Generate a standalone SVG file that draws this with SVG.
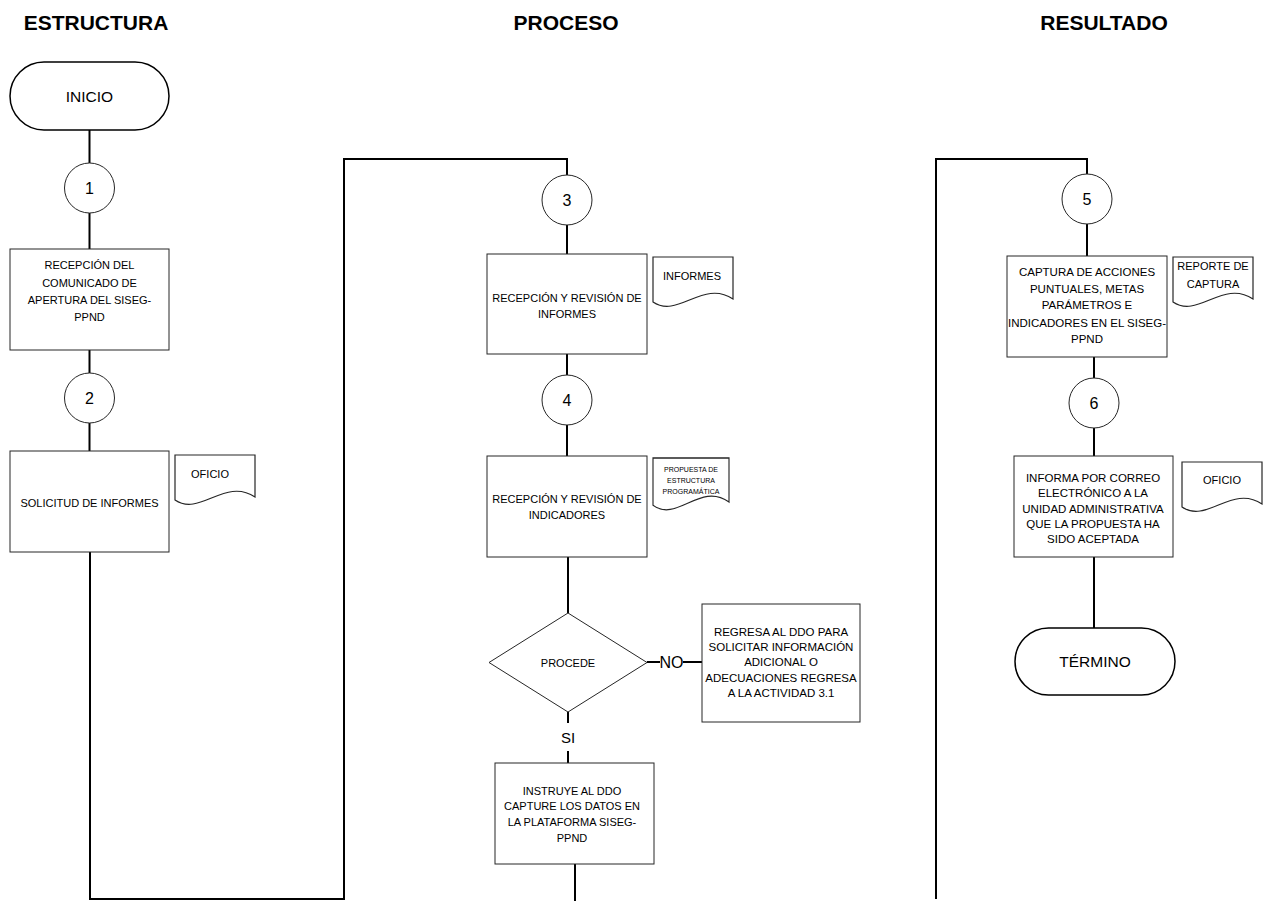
<svg xmlns="http://www.w3.org/2000/svg" width="1263" height="901" viewBox="0 0 1263 901">
  <style>
    .bg { fill: #ffffff; }
    .box { fill: #ffffff; stroke: #262626; stroke-width: 1; }
    .term { fill: #ffffff; stroke: #000000; stroke-width: 1.5; }
    .circ { fill: #ffffff; stroke: #262626; stroke-width: 1; }
    .doc { fill: #ffffff; stroke: #262626; stroke-width: 1.2; }
    .wire { fill: none; stroke: #000000; stroke-width: 2; }
    .hdr { font-family: "Liberation Sans", Arial, sans-serif; font-size: 21px; font-weight: bold; fill: #000; text-anchor: middle; }
    .t { font-family: "Liberation Sans", Arial, sans-serif; font-size: 11px; fill: #000; text-anchor: middle; }
    .tl { font-family: "Liberation Sans", Arial, sans-serif; font-size: 11.5px; fill: #000; text-anchor: middle; }
    .tiny { font-family: "Liberation Sans", Arial, sans-serif; font-size: 7px; fill: #000; text-anchor: middle; }
    .num { font-family: "Liberation Sans", Arial, sans-serif; font-size: 16px; fill: #000; text-anchor: middle; }
    .big { font-family: "Liberation Sans", Arial, sans-serif; font-size: 15.5px; fill: #000; text-anchor: middle; }
    .lbl { font-family: "Liberation Sans", Arial, sans-serif; font-size: 15px; fill: #000; text-anchor: middle; }
  </style>
  <defs>
    <!-- document shape with wavy bottom edge, 80 wide -->
    <path id="docShape" d="M0,0 H80 V42 C50,22 25,62 0,45 Z"/>
  </defs>

  <rect class="bg" x="0" y="0" width="1263" height="901"/>

  <!-- column headers -->
  <g id="headers">
    <text class="hdr" x="96" y="30">ESTRUCTURA</text>
    <text class="hdr" x="566" y="30">PROCESO</text>
    <text class="hdr" x="1104" y="30">RESULTADO</text>
  </g>

  <!-- connectors -->
  <g id="connectors">
    <line class="wire" x1="89.5" y1="130" x2="89.5" y2="163"/>
    <line class="wire" x1="89.5" y1="213" x2="89.5" y2="249"/>
    <line class="wire" x1="89.5" y1="350" x2="89.5" y2="373"/>
    <line class="wire" x1="89.5" y1="423" x2="89.5" y2="451"/>
    <polyline class="wire" points="90,552 90,899 344,899 344,159 567,159 567,175"/>
    <line class="wire" x1="567" y1="225" x2="567" y2="254"/>
    <line class="wire" x1="567" y1="354" x2="567" y2="375"/>
    <line class="wire" x1="567" y1="425" x2="567" y2="456"/>
    <line class="wire" x1="568" y1="557" x2="568" y2="613"/>
    <line class="wire" x1="647" y1="662" x2="660" y2="662"/>
    <line class="wire" x1="683" y1="662" x2="702" y2="662"/>
    <line class="wire" x1="568" y1="712" x2="568" y2="723"/>
    <line class="wire" x1="568" y1="751" x2="568" y2="763"/>
    <line class="wire" x1="575" y1="864" x2="575" y2="901"/>
    <polyline class="wire" points="936,899 936,159 1087,159 1087,174"/>
    <line class="wire" x1="1087" y1="224" x2="1087" y2="256"/>
    <line class="wire" x1="1094" y1="357" x2="1094" y2="378"/>
    <line class="wire" x1="1094" y1="428" x2="1094" y2="456"/>
    <line class="wire" x1="1094" y1="557" x2="1094" y2="628"/>
  </g>

  <!-- ESTRUCTURA column -->
  <g id="inicio">
    <rect class="term" x="10" y="62" width="159" height="68" rx="34" ry="34"/>
    <text class="big" x="89.5" y="102">INICIO</text>
  </g>
  <g id="step1">
    <circle class="circ" cx="89.5" cy="188" r="25"/>
    <text class="num" x="89.5" y="194">1</text>
  </g>
  <g id="recepcion-comunicado">
    <rect class="box" x="10" y="249" width="159" height="101"/>
    <text class="t" x="89.5" y="269">RECEPCIÓN DEL</text>
    <text class="t" x="89.5" y="287">COMUNICADO DE</text>
    <text class="t" x="89.5" y="304">APERTURA DEL SISEG-</text>
    <text class="t" x="89.5" y="321">PPND</text>
  </g>
  <g id="step2">
    <circle class="circ" cx="89.5" cy="398" r="25"/>
    <text class="num" x="89.5" y="404">2</text>
  </g>
  <g id="solicitud-informes">
    <rect class="box" x="10" y="451" width="159" height="101"/>
    <text class="t" x="89.5" y="507">SOLICITUD DE INFORMES</text>
  </g>
  <g id="doc-oficio-1">
    <use href="#docShape" class="doc" transform="translate(175,455)"/>
    <text class="t" x="210" y="478">OFICIO</text>
  </g>

  <!-- PROCESO column -->
  <g id="step3">
    <circle class="circ" cx="567" cy="200" r="25"/>
    <text class="num" x="567" y="206">3</text>
  </g>
  <g id="revision-informes">
    <rect class="box" x="487" y="254" width="160" height="100"/>
    <text class="t" x="567" y="302">RECEPCIÓN Y REVISIÓN DE</text>
    <text class="t" x="567" y="318">INFORMES</text>
  </g>
  <g id="doc-informes">
    <use href="#docShape" class="doc" transform="translate(653,257)"/>
    <text class="t" x="692" y="280">INFORMES</text>
  </g>
  <g id="step4">
    <circle class="circ" cx="567" cy="400" r="25"/>
    <text class="num" x="567" y="406">4</text>
  </g>
  <g id="revision-indicadores">
    <rect class="box" x="487" y="456" width="160" height="101"/>
    <text class="t" x="567" y="503">RECEPCIÓN Y REVISIÓN DE</text>
    <text class="t" x="567" y="519">INDICADORES</text>
  </g>
  <g id="doc-propuesta">
    <use href="#docShape" class="doc" transform="translate(653,458) scale(0.95,1.05)"/>
    <text class="tiny" x="691" y="472">PROPUESTA DE</text>
    <text class="tiny" x="691" y="483">ESTRUCTURA</text>
    <text class="tiny" x="691" y="494">PROGRAMÁTICA</text>
  </g>
  <g id="procede">
    <polygon class="box" points="568,613 647,662.5 568,712 489,662.5"/>
    <text class="t" x="568" y="667">PROCEDE</text>
  </g>
  <g id="label-no">
    <text class="num" x="671.5" y="668">NO</text>
  </g>
  <g id="regresa-ddo">
    <rect class="box" x="702" y="604" width="158" height="118"/>
    <text class="tl" x="781" y="636">REGRESA AL DDO PARA</text>
    <text class="tl" x="781" y="651">SOLICITAR INFORMACIÓN</text>
    <text class="tl" x="781" y="666">ADICIONAL O</text>
    <text class="tl" x="781" y="682">ADECUACIONES REGRESA</text>
    <text class="tl" x="781" y="697">A LA ACTIVIDAD 3.1</text>
  </g>
  <g id="label-si">
    <text class="lbl" x="568" y="743">SI</text>
  </g>
  <g id="instruye-ddo">
    <rect class="box" x="495" y="763" width="159" height="101"/>
    <text class="t" x="572" y="795">INSTRUYE AL DDO</text>
    <text class="t" x="572" y="810">CAPTURE LOS DATOS EN</text>
    <text class="t" x="572" y="826">LA PLATAFORMA SISEG-</text>
    <text class="t" x="572" y="842">PPND</text>
  </g>

  <!-- RESULTADO column -->
  <g id="step5">
    <circle class="circ" cx="1087" cy="199" r="25"/>
    <text class="num" x="1087" y="205">5</text>
  </g>
  <g id="captura-acciones">
    <rect class="box" x="1007" y="256" width="160" height="101"/>
    <text class="tl" x="1087" y="276">CAPTURA DE ACCIONES</text>
    <text class="tl" x="1087" y="293">PUNTUALES, METAS</text>
    <text class="tl" x="1087" y="309">PARÁMETROS E</text>
    <text class="tl" x="1087" y="327">INDICADORES EN EL SISEG-</text>
    <text class="tl" x="1087" y="343">PPND</text>
  </g>
  <g id="doc-reporte">
    <use href="#docShape" class="doc" transform="translate(1173,257)"/>
    <text class="t" x="1213" y="270">REPORTE DE</text>
    <text class="t" x="1213" y="288">CAPTURA</text>
  </g>
  <g id="step6">
    <circle class="circ" cx="1094" cy="403" r="25"/>
    <text class="num" x="1094" y="409">6</text>
  </g>
  <g id="informa-correo">
    <rect class="box" x="1014" y="456" width="159" height="101"/>
    <text class="tl" x="1093" y="482">INFORMA POR CORREO</text>
    <text class="tl" x="1093" y="497">ELECTRÓNICO A LA</text>
    <text class="tl" x="1093" y="513">UNIDAD ADMINISTRATIVA</text>
    <text class="tl" x="1093" y="528">QUE LA PROPUESTA HA</text>
    <text class="tl" x="1093" y="543">SIDO ACEPTADA</text>
  </g>
  <g id="doc-oficio-2">
    <use href="#docShape" class="doc" transform="translate(1182,462)"/>
    <text class="t" x="1222" y="484">OFICIO</text>
  </g>
  <g id="termino">
    <rect class="term" x="1015" y="628" width="160" height="67" rx="33.5" ry="33.5"/>
    <text class="big" x="1095" y="667">TÉRMINO</text>
  </g>
</svg>
